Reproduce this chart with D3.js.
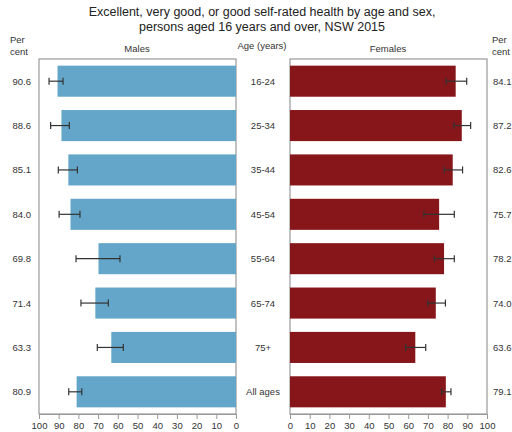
<!DOCTYPE html>
<html>
<head>
<meta charset="utf-8">
<script src="https://cdn.jsdelivr.net/npm/d3@7"></script>
<style>
  body { margin: 0; background: #fff; }
  text { font-family: "Liberation Sans", Arial, sans-serif; }
</style>
</head>
<body>
<svg id="chart" width="512" height="432"></svg>
<script>
// Data
const ages = ["16-24", "25-34", "35-44", "45-54", "55-64", "65-74", "75+", "All ages"];
const males = [90.6, 88.6, 85.1, 84.0, 69.8, 71.4, 63.3, 80.9];
const malesLow = [87.8, 84.6, 80.5, 79.2, 58.9, 64.8, 57.2, 78.3];
const malesHigh = [94.9, 94.1, 90.2, 89.8, 81.2, 78.7, 70.4, 84.9];
const females = [84.1, 87.2, 82.6, 75.7, 78.2, 74.0, 63.6, 79.1];
const femalesLow = [79.2, 83.2, 78.3, 68.0, 73.3, 69.9, 58.7, 77.0];
const femalesHigh = [89.7, 91.7, 87.6, 83.4, 83.4, 78.9, 68.9, 81.7];
const ticks = [0, 10, 20, 30, 40, 50, 60, 70, 80, 90, 100];

const svg = d3.select("#chart");
const TOP = 59, BOTTOM = 414;

const y = d3.scaleBand().domain(ages).range([TOP, BOTTOM]).paddingInner(0.3).paddingOuter(0.15);
const xL = d3.scaleLinear().domain([0, 100]).range([236, 39]);
const xR = d3.scaleLinear().domain([0, 100]).range([290, 487]);

// Title
svg.append("text").attr("x", 262).attr("y", 16).attr("text-anchor", "middle")
    .attr("font-size", 12.5).attr("fill", "#222")
    .text("Excellent, very good, or good self-rated health by age and sex,");
svg.append("text").attr("x", 262).attr("y", 31).attr("text-anchor", "middle")
    .attr("font-size", 12.5).attr("fill", "#222")
    .text("persons aged 16 years and over, NSW 2015");

// Headers
const hdr = (x, yy, t, anchor) => svg.append("text").attr("x", x).attr("y", yy)
    .attr("text-anchor", anchor || "middle").attr("font-size", 9.5).attr("fill", "#333").text(t);
hdr(10, 43, "Per", "start");
hdr(10, 55, "cent", "start");
hdr(492, 43, "Per", "start");
hdr(492, 55, "cent", "start");
hdr(137, 52, "Males");
hdr(388, 52, "Females");
hdr(262, 49, "Age (years)");

function panel(x, vals, lo, hi, color) {
    // frame
    const [a, b] = x.range();
    svg.append("rect")
        .attr("x", Math.min(a, b)).attr("y", TOP)
        .attr("width", Math.abs(b - a)).attr("height", BOTTOM - TOP)
        .attr("fill", "none").attr("stroke", "#999").attr("stroke-width", 1.2);

    svg.selectAll(null).data(ages).enter().append("rect")
        .attr("x", (d, i) => Math.min(x(0), x(vals[i])))
        .attr("y", d => y(d))
        .attr("width", (d, i) => Math.abs(x(vals[i]) - x(0)))
        .attr("height", y.bandwidth())
        .attr("fill", color);

    const eb = svg.append("g").attr("stroke", "#333").attr("stroke-width", 1.2);
    ages.forEach((d, i) => {
        const cy = y(d) + y.bandwidth() / 2;
        eb.append("line").attr("x1", x(lo[i])).attr("x2", x(hi[i])).attr("y1", cy).attr("y2", cy);
        eb.append("line").attr("x1", x(lo[i])).attr("x2", x(lo[i])).attr("y1", cy - 3.5).attr("y2", cy + 3.5);
        eb.append("line").attr("x1", x(hi[i])).attr("x2", x(hi[i])).attr("y1", cy - 3.5).attr("y2", cy + 3.5);
    });

    const ax = svg.append("g").attr("transform", `translate(0,${BOTTOM})`)
        .call(d3.axisBottom(x).tickValues(ticks).tickSize(5).tickPadding(3).tickSizeOuter(0));
    ax.select(".domain").attr("stroke", "#999").attr("stroke-width", 1.2);
    ax.selectAll(".tick line").attr("stroke", "#999");
    ax.selectAll("text").attr("font-size", 9.5).attr("fill", "#333")
        .attr("font-family", "Liberation Sans, Arial, sans-serif");
}

panel(xL, males, malesLow, malesHigh, "#63a6c9");
panel(xR, females, femalesLow, femalesHigh, "#86161a");

// Value labels and age labels
ages.forEach((d, i) => {
    const cy = y(d) + y.bandwidth() / 2 + 3.5;
    svg.append("text").attr("x", 31).attr("y", cy).attr("text-anchor", "end")
        .attr("font-size", 9.5).attr("fill", "#333").text(males[i].toFixed(1));
    svg.append("text").attr("x", 493).attr("y", cy).attr("text-anchor", "start")
        .attr("font-size", 9.5).attr("fill", "#333").text(females[i].toFixed(1));
    svg.append("text").attr("x", 263).attr("y", cy).attr("text-anchor", "middle")
        .attr("font-size", 9.5).attr("fill", "#333").text(d);
});
</script>
</body>
</html>
